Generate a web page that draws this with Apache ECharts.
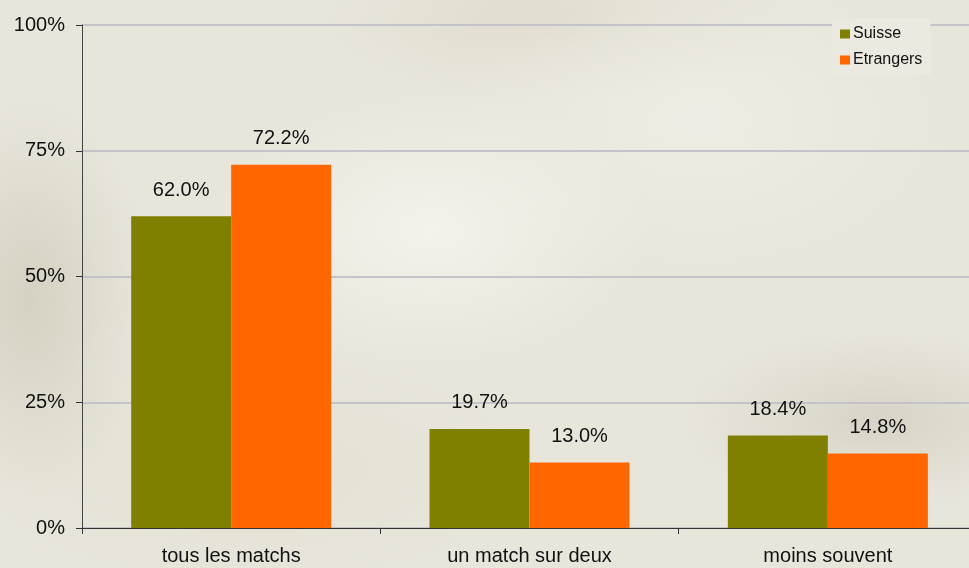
<!DOCTYPE html>
<html>
<head>
<meta charset="utf-8">
<script src="https://cdn.jsdelivr.net/npm/echarts@6/dist/echarts.min.js"></script>
<style>
  html, body {
    margin: 0;
    padding: 0;
  }
  body {
    width: 969px;
    height: 568px;
    overflow: hidden;
    background:
      radial-gradient(ellipse 220px 140px at 430px 230px, rgba(245, 243, 236, 0.9), rgba(245, 243, 236, 0) 100%),
      radial-gradient(ellipse 260px 160px at 700px 120px, rgba(240, 238, 230, 0.8), rgba(240, 238, 230, 0) 100%),
      radial-gradient(ellipse 120px 200px at 30px 300px, rgba(200, 196, 178, 0.6), rgba(200, 196, 178, 0) 100%),
      radial-gradient(ellipse 200px 90px at 880px 420px, rgba(205, 201, 186, 0.6), rgba(205, 201, 186, 0) 100%),
      radial-gradient(ellipse 240px 80px at 560px 20px, rgba(214, 210, 192, 0.5), rgba(214, 210, 192, 0) 100%),
      radial-gradient(ellipse 300px 120px at 250px 470px, rgba(226, 222, 208, 0.7), rgba(226, 222, 208, 0) 100%),
      #e8e5db;
  }
  #chart {
    width: 969px;
    height: 568px;
  }
</style>
</head>
<body>
<div id="chart"></div>
<script>
const categories = ['tous les matchs', 'un match sur deux', 'moins souvent']
const suisse = [62.0, 19.7, 18.4]
const etrangers = [72.2, 13.0, 14.8]

const font = '"Liberation Sans", Arial, sans-serif'

const chart = echarts.init(document.getElementById('chart'))

const valueLabel = {
  show: true,
  position: 'top',
  distance: 16,
  color: '#111',
  fontFamily: font,
  fontSize: 20,
  formatter: p => p.value.toFixed(1) + '%',
}

chart.setOption({
  backgroundColor: 'transparent',
  animation: false,
  textStyle: { fontFamily: font },
  grid: {
    left: 82,
    width: 895,
    top: 25,
    bottom: 40,
    containLabel: false,
    outerBoundsMode: 'none',
  },
  legend: {
    orient: 'vertical',
    left: 832,
    top: 19,
    padding: [7, 8, 7, 8],
    backgroundColor: '#ebe9e0',
    itemWidth: 10,
    itemHeight: 9,
    itemGap: 10,
    icon: 'rect',
    textStyle: { color: '#111', fontSize: 16, fontFamily: font, padding: [0, 0, 0, -2] },
    data: ['Suisse', 'Etrangers'],
  },
  xAxis: {
    type: 'category',
    data: categories,
    axisLine: { lineStyle: { color: '#333', width: 1 } },
    axisTick: { show: true, length: 6, lineStyle: { color: '#333' } },
    axisLabel: { color: '#111', fontSize: 20, fontFamily: font, margin: 18 },
  },
  yAxis: {
    type: 'value',
    min: 0,
    max: 100,
    interval: 25,
    axisLine: { show: true, lineStyle: { color: '#444', width: 1 } },
    axisTick: { show: true, length: 6, lineStyle: { color: '#333' } },
    axisLabel: { color: '#111', fontSize: 20, fontFamily: font, margin: 17, formatter: '{value}%' },
    splitLine: { lineStyle: { color: '#c4c4c8', width: 2 } },
  },
  series: [
    {
      name: 'Suisse',
      type: 'bar',
      data: suisse,
      barWidth: 100,
      barGap: '0%',
      itemStyle: { color: '#808000' },
      label: valueLabel,
    },
    {
      name: 'Etrangers',
      type: 'bar',
      data: etrangers,
      barWidth: 100,
      itemStyle: { color: '#ff6600' },
      label: valueLabel,
    },
  ],
})
</script>
</body>
</html>
